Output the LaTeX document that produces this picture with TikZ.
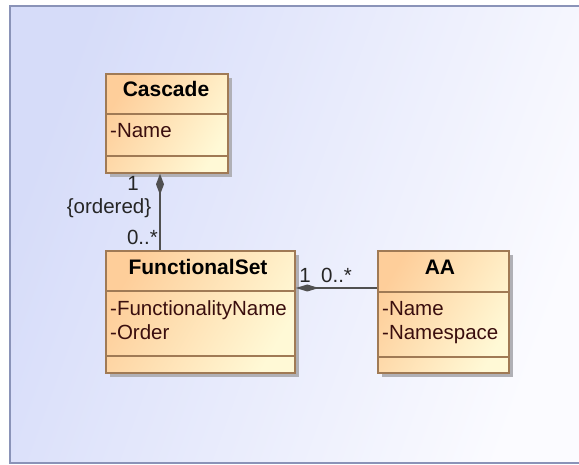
\documentclass[tikz,border=0pt]{standalone}
\usepackage{fontspec}
\setmainfont{Liberation Sans}
\usetikzlibrary{arrows.meta,shadows}
\definecolor{bgA}{HTML}{D6DCF9}
\definecolor{bgB}{HTML}{FBFBFF}
\definecolor{frameC}{HTML}{8A93B8}
\definecolor{boxA}{HTML}{FECE9A}
\definecolor{boxB}{HTML}{FFF9D6}
\definecolor{boxBorder}{HTML}{A07A55}
\definecolor{shadowC}{HTML}{B0B0B6}
\definecolor{attrC}{HTML}{3A0E0E}
\definecolor{linkC}{HTML}{505050}
\begin{document}
\begin{tikzpicture}[x=1pt,y=-1pt,
  txt/.style={font=\fontsize{20.5}{24}\selectfont, inner sep=0pt},
  title/.style={font=\fontsize{21}{24}\selectfont\bfseries, inner sep=0pt, anchor=base},
  attr/.style={txt, text=attrC, anchor=base west},
  classbox/.style={draw=boxBorder, line width=1.6pt, left color=boxA, right color=boxB,
    shading angle=60, inner sep=0pt,
    drop shadow={shadow xshift=4pt, shadow yshift=-4pt, fill=shadowC, opacity=1}},
  sep/.style={draw=boxBorder, line width=1.4pt},
  link/.style={draw=linkC, line width=1.6pt},
  lbl/.style={txt, text=black!85, anchor=base}
]
\useasboundingbox (0,0) rectangle (579,465);
\fill[white] (0,0) rectangle (579,465);
\shade[left color=bgA, right color=bgB, shading angle=70] (10,6) rectangle (579,463);
\draw[frameC, line width=2pt] (579,6) -- (10,6) -- (10,463) -- (579,463);

% classes
\node[classbox, minimum width=122pt, minimum height=99pt] (cascade) at (167,123.5) {};
\node[classbox, minimum width=189pt, minimum height=122pt] (fs) at (200.5,312) {};
\node[classbox, minimum width=131pt, minimum height=122pt] (aa) at (443.5,312) {};

% compartments
\draw[sep] (cascade.west |- 0,114) -- (cascade.east |- 0,114);
\draw[sep] (cascade.west |- 0,156) -- (cascade.east |- 0,156);
\draw[sep] (fs.west |- 0,291) -- (fs.east |- 0,291);
\draw[sep] (fs.west |- 0,356) -- (fs.east |- 0,356);
\draw[sep] (aa.west |- 0,292) -- (aa.east |- 0,292);
\draw[sep] (aa.west |- 0,357) -- (aa.east |- 0,357);

% texts
\node[title] (tc) at (166,97) {Cascade};
\node[attr] (ac1) at (110,138) {-Name};
\node[title] (tf) at (198,275) {FunctionalSet};
\node[attr] (af1) at (110,316) {-FunctionalityName};
\node[attr] (af2) at (110,340) {-Order};
\node[title] (ta) at (440,275) {AA};
\node[attr] (aa1) at (382,316) {-Name};
\node[attr] (aa2) at (382,340) {-Namespace};

% connectors
\coordinate (vx) at (160,0);
\coordinate (hy) at (0,288);
\draw[link, {Diamond[length=21pt,width=8pt,fill=linkC]}-] (cascade.south -| vx) -- (fs.north -| vx);
\draw[link, {Diamond[length=23pt,width=7pt,fill=linkC]}-] (fs.east |- hy) -- (aa.west |- hy);

% labels
\node[lbl] (l1) at (133,191) {1};
\node[lbl] (l2) at (109,214) {\{ordered\}};
\node[lbl, anchor=base east] (l3) at (158,245) {0..*};
\node[lbl] (l4) at (305,283) {1};
\node[lbl, anchor=base west] (l5) at (321,283) {0..*};
\end{tikzpicture}
\end{document}
